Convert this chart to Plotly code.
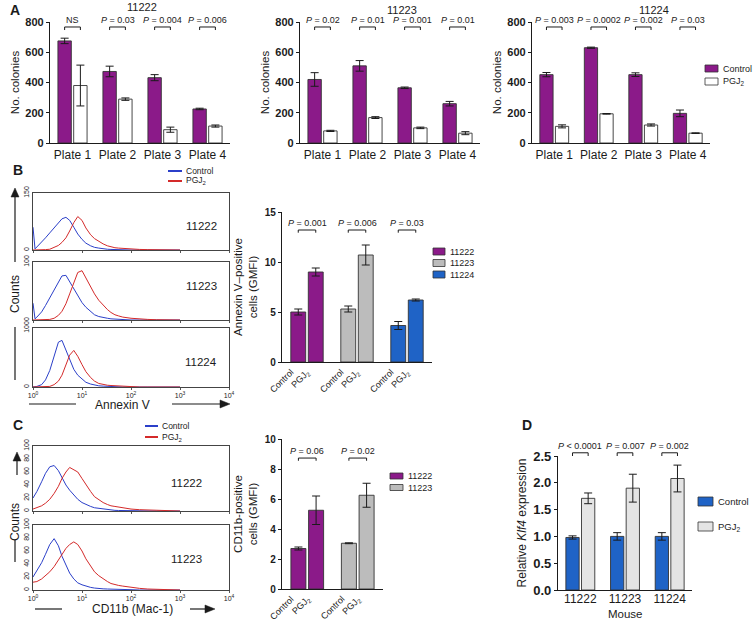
import plotly.graph_objects as go

W, H = 756, 621
FONT = "Liberation Sans, Arial, Helvetica, sans-serif"
INK = "#1b1b1b"

PURPLE = "#8b1a89"
GRAY = "#bcbcbc"
BLUE = "#1f63c6"
LIGHT = "#e4e4e4"
HBLUE = "#2b3fc9"
HRED = "#d42a2a"

# ---------------- data ----------------
PLATES = ["Plate 1", "Plate 2", "Plate 3", "Plate 4"]

A1_CTRL = [675, 473, 432, 225]
A1_CTRL_ERR = [18, 35, 20, 5]
A1_PGJ = [380, 290, 88, 112]
A1_PGJ_ERR = [135, 8, 17, 7]
A1_P = ["NS", "P = 0.03", "P = 0.004", "P = 0.006"]

A2_CTRL = [420, 510, 365, 260]
A2_CTRL_ERR = [45, 35, 5, 15]
A2_PGJ = [80, 168, 100, 65]
A2_PGJ_ERR = [4, 6, 5, 10]
A2_P = ["P = 0.02", "P = 0.01", "P = 0.001", "P = 0.01"]

A3_CTRL = [452, 630, 452, 196]
A3_CTRL_ERR = [14, 4, 12, 22]
A3_PGJ = [110, 193, 119, 65]
A3_PGJ_ERR = [10, 2, 7, 2]
A3_P = ["P = 0.003", "P = 0.0002", "P = 0.002", "P = 0.03"]

B_MICE = ["11222", "11223", "11224"]
B_CTRL = [5.0, 5.3, 3.65]
B_CTRL_ERR = [0.3, 0.3, 0.4]
B_PGJ = [9.0, 10.7, 6.2]
B_PGJ_ERR = [0.4, 1.0, 0.1]
B_P = ["P = 0.001", "P = 0.006", "P = 0.03"]

C_MICE = ["11222", "11223"]
C_CTRL = [2.7, 3.05]
C_CTRL_ERR = [0.1, 0.03]
C_PGJ = [5.25, 6.25]
C_PGJ_ERR = [0.95, 0.8]
C_P = ["P = 0.06", "P = 0.02"]

D_MICE = ["11222", "11223", "11224"]
D_CTRL = [0.98, 1.0, 1.0]
D_CTRL_ERR = [0.03, 0.07, 0.07]
D_PGJ = [1.71, 1.90, 2.08]
D_PGJ_ERR = [0.1, 0.26, 0.25]
D_P = ["P < 0.0001", "P = 0.007", "P = 0.002"]

# flow cytometry histogram bins (fluorescence) and counts
BINS = [1.0, 1.1, 1.2, 1.5, 1.8, 2.2, 2.7, 3.3, 3.9, 4.7, 5.6, 6.8, 8.2, 10, 12,
        15, 18, 22, 27, 33, 39, 47, 56, 68, 100, 150, 220, 330, 470, 1000]
HB1_CTRL = [60, 3, 8, 20, 32, 45, 58, 72, 82, 86, 78, 60, 42, 28, 18,
            11, 7, 5, 3, 2, 1.5, 1, 0.8, 0.5, 0, 0, 0, 0, 0, 0]
HB1_PGJ = [0, 0, 0, 0, 1, 2, 6, 12, 20, 32, 50, 72, 88, 78, 58,
           40, 30, 22, 16, 11, 8, 6, 5, 4, 2.5, 1.5, 1, 0.5, 0.2, 0]
HB2_CTRL = [29, 2, 5, 14, 25, 38, 52, 66, 76, 77, 66, 52, 40, 30, 22,
            14, 9, 6, 4, 3, 2, 1.5, 1, 0.5, 0, 0, 0, 0, 0, 0]
HB2_PGJ = [0, 0, 0, 0, 0, 1, 3, 8, 15, 28, 45, 65, 82, 85, 72,
           58, 45, 34, 25, 18, 13, 9, 7, 5, 3, 1.5, 1, 0.5, 0.2, 0]
HB3_CTRL = [0, 0, 1, 4, 12, 28, 52, 76, 79, 62, 45, 30, 20, 13, 8,
            5, 3, 2, 1.5, 1, 0.5, 0.3, 0, 0, 0, 0, 0, 0, 0, 0]
HB3_PGJ = [0, 0, 0, 0, 0, 1, 4, 10, 20, 36, 54, 62, 52, 38, 26,
           16, 10, 6, 4, 3, 2.5, 2, 1.5, 1, 0.5, 0, 0, 0, 0, 0]
HC1_CTRL = [20, 25, 30, 45, 58, 68, 70, 62, 52, 40, 32, 25, 18, 13, 10,
            7, 5, 4, 3, 2, 1.5, 1, 0.8, 0.6, 0.5, 0, 0, 0, 0, 0]
HC1_PGJ = [3, 4, 5, 8, 12, 18, 27, 38, 50, 60, 67, 63, 60, 50, 40,
           30, 22, 17, 13, 10, 8, 7, 6, 5, 3, 2, 1.5, 1, 0.5, 0]
HC2_CTRL = [20, 25, 30, 42, 55, 70, 79, 68, 52, 38, 26, 17, 11, 8, 6,
            4, 3, 2, 1.8, 1.5, 1.2, 1, 0.8, 0.6, 0.5, 0, 0, 0, 0, 0]
HC2_PGJ = [12, 12, 13, 17, 22, 28, 36, 46, 56, 64, 70, 74, 70, 60, 48,
           36, 28, 22, 17, 13, 10, 8, 7, 6, 4, 2.5, 1.5, 1, 0.3, 0]

DECADES = [1, 10, 100, 1000, 10000]
DECADE_LABELS = ["10<sup>0</sup>", "10<sup>1</sup>", "10<sup>2</sup>", "10<sup>3</sup>", "10<sup>4</sup>"]

# ---------------- helpers ----------------
def fx(p):
    return p / W


def fy(p):
    return 1 - p / H


def refs(n):
    s = "" if n == 1 else str(n)
    return "xaxis" + s, "yaxis" + s, "x" + s, "y" + s


fig = go.Figure()
layout = {}
shapes = []
annotations = []


def text_px(text, x, y, size=11, **kw):
    d = dict(text=text, x=fx(x), y=fy(y), xref="paper", yref="paper",
             xanchor="center", yanchor="middle",
             showarrow=False, font=dict(family=FONT, size=size, color=kw.pop("color", INK)))
    d.update(kw)
    annotations.append(d)


def place(n, x0, x1, ytop, ybot, xa, ya):
    xk, yk, xr, yr = refs(n)
    layout[xk] = dict(domain=[fx(x0), fx(x1)], anchor=yr, **xa)
    layout[yk] = dict(domain=[fy(ybot), fy(ytop)], anchor=xr, **ya)


def ptxt(s):
    return s if s == "NS" else "<i>P</i>" + s[1:]


HALF = 0.175  # half distance between paired bar centres (bargap .3 -> slot .35)


def bar_panel(n, cats, ctrl, ctrl_err, pgj, pgj_err, ctrl_col, pgj_col, ymax, ytickvals,
              ytitle, pvals, bracket_y, bracket_h, ytick_size=11, xticks=True, ytitle_size=11.5,
              standoff=4, cap=4):
    _, _, xr, yr = refs(n)
    line = dict(color="#333333", width=0.9)
    fig.add_trace(go.Bar(x=cats, y=ctrl, name="Control", xaxis=xr, yaxis=yr, showlegend=False,
                         marker=dict(color=ctrl_col, line=line),
                         error_y=dict(type="data", array=ctrl_err, color=INK, thickness=1, width=cap)))
    fig.add_trace(go.Bar(x=cats, y=pgj, name="PGJ2", xaxis=xr, yaxis=yr, showlegend=False,
                         marker=dict(color=pgj_col, line=line),
                         error_y=dict(type="data", array=pgj_err, color=INK, thickness=1, width=cap)))
    for i, p in enumerate(pvals):
        y1 = bracket_y
        y0 = bracket_y - bracket_h
        for (xa0, ya0, xa1, ya1) in [(i - HALF, y0, i - HALF, y1), (i - HALF, y1, i + HALF, y1),
                                     (i + HALF, y1, i + HALF, y0)]:
            shapes.append(dict(type="line", xref=xr, yref=yr + " domain",
                               x0=xa0, x1=xa1, y0=ya0 / ymax, y1=ya1 / ymax,
                               line=dict(color=INK, width=1)))
        annotations.append(dict(text=ptxt(p), x=i, y=bracket_y / ymax, xref=xr, yref=yr + " domain",
                                yanchor="bottom", xanchor="center", showarrow=False, yshift=0,
                                font=dict(family=FONT, size=9, color=INK)))
    xa = dict(type="category", range=[-0.5, len(cats) - 0.5], showline=True, linecolor=INK,
              linewidth=1.3, ticks="", showticklabels=xticks, tickfont=dict(family=FONT, size=12, color=INK),
              showgrid=False, zeroline=False, fixedrange=True)
    ya = dict(range=[0, ymax], tickvals=ytickvals, showline=True, linecolor=INK, linewidth=1.3,
              ticks="outside", ticklen=3, tickwidth=1.3, tickcolor=INK,
              tickfont=dict(family=FONT, size=ytick_size, color=INK, weight="bold"),
              showgrid=False, zeroline=False,
              title=dict(text=ytitle, font=dict(family=FONT, size=ytitle_size, color=INK), standoff=standoff))
    return xa, ya


def hist_panel(n, ctrl, pgj, ymax, yticks, show_x):
    _, _, xr, yr = refs(n)
    fig.add_trace(go.Scatter(x=BINS, y=ctrl, mode="lines", line=dict(color=HBLUE, width=1),
                             xaxis=xr, yaxis=yr, showlegend=False, name="Control"))
    fig.add_trace(go.Scatter(x=BINS, y=pgj, mode="lines", line=dict(color=HRED, width=1),
                             xaxis=xr, yaxis=yr, showlegend=False, name="PGJ2"))
    xa = dict(type="log", range=[0, 4], tickvals=DECADES, ticktext=DECADE_LABELS,
              showticklabels=show_x, ticks="outside", ticklen=2, tickcolor="#555",
              tickfont=dict(family=FONT, size=7, color=INK), showline=True, mirror=True,
              linecolor="#444", linewidth=1, showgrid=False, zeroline=False)
    ya = dict(range=[0, ymax], tickvals=yticks, tickangle=-90, ticks="",
              tickfont=dict(family=FONT, size=7, color=INK), showline=True, mirror=True,
              linecolor="#444", linewidth=1, showgrid=False, zeroline=False)
    return xa, ya


# ---------------- panel A ----------------
A_SETS = [(1, 50, 230, A1_CTRL, A1_CTRL_ERR, A1_PGJ, A1_PGJ_ERR, A1_P),
          (2, 300, 480, A2_CTRL, A2_CTRL_ERR, A2_PGJ, A2_PGJ_ERR, A2_P),
          (3, 532, 710, A3_CTRL, A3_CTRL_ERR, A3_PGJ, A3_PGJ_ERR, A3_P)]
for n, x0, x1, c, ce, p, pe, pv in A_SETS:
    xa, ya = bar_panel(n, PLATES, c, ce, p, pe, PURPLE, "white", 800, [0, 200, 400, 600, 800],
                       "No. colonies", pv, 767, 20, ytick_size=11, standoff=3)
    place(n, x0, x1, 22, 143, xa, ya)

text_px("11222", 142, 7, 11)
text_px("11223", 402, 10, 11)
text_px("11224", 654, 10, 11)

# ---------------- panel B histograms ----------------
for n, c, p, ymax, yt, top, bot, showx in [
        (4, HB1_CTRL, HB1_PGJ, 150, [0, 150], 193, 250, False),
        (5, HB2_CTRL, HB2_PGJ, 100, [0, 100], 262, 320, False),
        (6, HB3_CTRL, HB3_PGJ, 100, [0, 100], 328, 387, True)]:
    xa, ya = hist_panel(n, c, p, ymax, yt, showx)
    place(n, 33, 229, top, bot, xa, ya)

text_px("11222", 201, 226, 11.5)
text_px("11223", 201, 286, 11.5)
text_px("11224", 201, 362, 11.5)

# ---------------- panel B bars ----------------
xa, ya = bar_panel(7, B_MICE, B_CTRL, B_CTRL_ERR, B_PGJ, B_PGJ_ERR,
                   [PURPLE, GRAY, BLUE], [PURPLE, GRAY, BLUE], 15, [0, 5, 10, 15],
                   "Annexin V–positive<br>cells (GMFI)", B_P, 13.2, 0.27, ytick_size=10,
                   xticks=False, ytitle_size=11.5, standoff=4)
place(7, 282, 432, 212, 362, xa, ya)

# ---------------- panel C histograms ----------------
for n, c, p, top, bot, showx in [(8, HC1_CTRL, HC1_PGJ, 446, 511, False),
                                 (9, HC2_CTRL, HC2_PGJ, 525, 590, True)]:
    xa, ya = hist_panel(n, c, p, 100, [0, 20, 40, 60, 80, 100], showx)
    place(n, 33, 229, top, bot, xa, ya)

text_px("11222", 186, 483, 11.5)
text_px("11223", 186, 559, 11.5)

# ---------------- panel C bars ----------------
xa, ya = bar_panel(10, C_MICE, C_CTRL, C_CTRL_ERR, C_PGJ, C_PGJ_ERR,
                   [PURPLE, GRAY], [PURPLE, GRAY], 10, [0, 2, 4, 6, 8, 10],
                   "CD11b-positive<br>cells (GMFI)", C_P, 8.73, 0.18, ytick_size=10,
                   xticks=False, ytitle_size=11.5, standoff=4)
place(10, 282, 383, 439, 589, xa, ya)

# rotated condition labels under B and C bars
for n, cats, ytop in [(7, B_MICE, 364), (10, C_MICE, 591)]:
    _, _, xr, _ = refs(n)
    for i in range(len(cats)):
        for off, lab in [(-HALF, "Control"), (HALF, "PGJ<sub>2</sub>")]:
            annotations.append(dict(text=lab, x=i + off, xref=xr, y=fy(ytop), yref="paper",
                                    textangle=-45, xanchor="right", yanchor="top", showarrow=False,
                                    font=dict(family=FONT, size=9, color=INK)))

# ---------------- panel D ----------------
xa, ya = bar_panel(11, D_MICE, D_CTRL, D_CTRL_ERR, D_PGJ, D_PGJ_ERR, BLUE, LIGHT, 2.5,
                   [0, 0.5, 1.0, 1.5, 2.0, 2.5], "Relative <i>Klf4</i> expression", D_P, 2.56, 0.06,
                   ytick_size=13, ytitle_size=12, standoff=3)
ya["tickformat"] = ".1f"
xa["ticklabelstandoff"] = -3
place(11, 558, 692, 456, 590, xa, ya)
text_px("Mouse", 625, 614, 11.5)

# ---------------- manual legends ----------------
def rect_key(x0, y0, x1, y1, fill, label, size=9):
    shapes.append(dict(type="rect", xref="paper", yref="paper", x0=fx(x0), x1=fx(x1),
                       y0=fy(y1), y1=fy(y0), fillcolor=fill, line=dict(color="#333333", width=0.8)))
    text_px(label, x1 + 3, (y0 + y1) / 2, size, xanchor="left", yanchor="middle")


def line_key(x0, x1, y, color, label, size=8.5):
    shapes.append(dict(type="line", xref="paper", yref="paper", x0=fx(x0), x1=fx(x1),
                       y0=fy(y), y1=fy(y), line=dict(color=color, width=2)))
    text_px(label, x1 + 2, y, size, xanchor="left", yanchor="middle")


rect_key(705, 65, 718, 72, PURPLE, "Control")
rect_key(705, 78, 718, 85, "white", "PGJ<sub>2</sub>")

line_key(168, 182, 171, HBLUE, "Control")
line_key(168, 182, 181, HRED, "PGJ<sub>2</sub>")

for k, (m, col) in enumerate(zip(B_MICE, [PURPLE, GRAY, BLUE])):
    rect_key(433, 248 + 11.5 * k, 445, 255 + 11.5 * k, col, m)

line_key(145, 158, 426, HBLUE, "Control")
line_key(145, 158, 437, HRED, "PGJ<sub>2</sub>")

for k, (m, col) in enumerate(zip(C_MICE, [PURPLE, GRAY])):
    rect_key(390, 473 + 11.5 * k, 403, 479 + 11.5 * k, col, m)

rect_key(698, 497, 713, 506, BLUE, "Control", size=9.5)
rect_key(698, 522, 713, 531, LIGHT, "PGJ<sub>2</sub>", size=9.5)

# ---------------- axis decorations (Counts arrows, x-axis arrows) ----------------
def seg(x0, y0, x1, y1, width=1.2):
    shapes.append(dict(type="line", xref="paper", yref="paper", x0=fx(x0), y0=fy(y0),
                       x1=fx(x1), y1=fy(y1), line=dict(color=INK, width=width)))


def tri(points):
    path = "M " + " L ".join(f"{fx(a):.5f},{fy(b):.5f}" for a, b in points) + " Z"
    shapes.append(dict(type="path", xref="paper", yref="paper", path=path,
                       fillcolor=INK, line=dict(color=INK, width=0.5)))


def up_arrow(x, yhead, ytail):
    seg(x, ytail, x, yhead + 7)
    tri([(x, yhead), (x - 4, yhead + 9), (x + 4, yhead + 9)])


def right_arrow(xtail, xhead, y):
    seg(xtail, y, xhead - 7, y)
    tri([(xhead, y), (xhead - 10, y - 4), (xhead - 10, y + 4)])


# B
up_arrow(15, 188, 262)
text_px("Counts", 15, 294, 12, textangle=-90)
seg(15, 327, 15, 380)
seg(29, 404, 76, 404)
text_px("Annexin V", 122, 405, 12)
right_arrow(172, 230, 404)
# C
up_arrow(17, 452, 475)
text_px("Counts", 15, 522, 12, textangle=-90)
seg(15, 540, 15, 562)
seg(35, 609, 62, 609)
text_px("CD11b (Mac-1)", 132, 609, 12)
right_arrow(190, 215, 609)

# panel letters
for lab, x, y in [("A", 15, 10), ("B", 18, 170), ("C", 18, 425), ("D", 527, 425)]:
    text_px("<b>" + lab + "</b>", x, y, 14)

fig.update_layout(
    width=W, height=H, margin=dict(l=0, r=0, t=0, b=0, autoexpand=False),
    paper_bgcolor="white", plot_bgcolor="white",
    barmode="group", bargap=0.3, bargroupgap=0.15,
    showlegend=False, font=dict(family=FONT, color=INK),
    shapes=shapes, annotations=annotations, **layout,
)

fig.write_html("out.html", config={"displayModeBar": False},
               post_script="document.body.style.margin='0px';document.body.style.overflow='hidden';")
